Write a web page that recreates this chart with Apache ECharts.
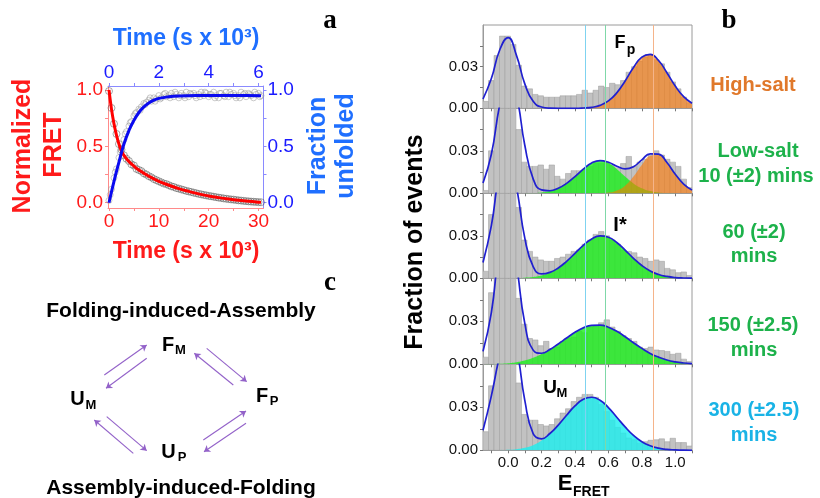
<!DOCTYPE html>
<html><head><meta charset="utf-8">
<script src="https://cdn.jsdelivr.net/npm/echarts@6/dist/echarts.min.js"></script>
<style>html,body{margin:0;padding:0;background:#fff}#c{width:820px;height:498px}</style>
</head><body><div id="c"></div>
<script>
// ---------------- Panel a data ----------------
const redT = [0,0.5,1,1.5,2,2.5,3,4,5,6,8,10,12,14,16,18,20,22,24,26,28,30,30.5];
const redV = [1.0,0.83,0.70,0.60,0.52,0.46,0.42,0.365,0.325,0.29,0.235,0.19,0.155,0.125,0.10,0.078,0.06,0.045,0.032,0.021,0.012,0.005,0.004];
const blueT = [0,0.2,0.4,0.6,0.8,1.0,1.2,1.4,1.6,1.8,2.0,2.4,2.8,3.5,4.5,5.5,6.1];
const blueV = [0,0.19,0.36,0.52,0.64,0.73,0.80,0.85,0.885,0.91,0.925,0.94,0.947,0.95,0.95,0.95,0.948];
const redDotT = [0,0.5,1,1.5,2,2.5,3,3.5,4,4.5,5,5.5,6,6.5,7,7.5,8,8.5,9,9.5,10,10.5,11,11.5,12,12.5,13,13.5,14,14.5,15,15.5,16,16.5,17,17.5,18,18.5,19,19.5,20,20.5,21,21.5,22,22.5,23,23.5,24,24.5,25,25.5,26,26.5,27,27.5,28,28.5,29,29.5,30,30.5];
const redDotV = [0.99,0.84,0.70,0.61,0.52,0.47,0.42,0.39,0.37,0.34,0.33,0.30,0.29,0.28,0.26,0.25,0.235,0.225,0.21,0.20,0.19,0.18,0.17,0.165,0.155,0.145,0.14,0.13,0.125,0.118,0.112,0.105,0.10,0.095,0.089,0.084,0.078,0.074,0.069,0.065,0.06,0.057,0.053,0.049,0.045,0.042,0.038,0.035,0.032,0.029,0.027,0.024,0.021,0.019,0.016,0.014,0.012,0.01,0.008,0.007,0.005,0.004];
const blueDotT = [0,0.1,0.2,0.3,0.4,0.5,0.6,0.7,0.8,0.9,1.0,1.1,1.2,1.3,1.4,1.5,1.6,1.7,1.8,1.9,2.0,2.1,2.2,2.3,2.4,2.5,2.6,2.7,2.8,2.9,3.0,3.1,3.2,3.3,3.4,3.5,3.6,3.7,3.8,3.9,4.0,4.1,4.2,4.3,4.4,4.5,4.6,4.7,4.8,4.9,5.0,5.1,5.2,5.3,5.4,5.5,5.6,5.7,5.8,5.9,6.0,6.1,
  0.05,0.25,0.45,0.65,0.85,1.05,1.25,1.45,1.65,1.85,2.05,2.25,2.45,2.65,2.85,3.05,3.25,3.45,3.65,3.85,4.05,4.25,4.45,4.65,4.85,5.05,5.25,5.45,5.65,5.85,6.05];
const blueDotV = [0.02,0.12,0.22,0.30,0.40,0.48,0.56,0.63,0.68,0.72,0.77,0.80,0.83,0.85,0.88,0.89,0.91,0.90,0.93,0.92,0.95,0.93,0.96,0.94,0.95,0.97,0.94,0.96,0.93,0.97,0.95,0.98,0.94,0.96,0.97,0.93,0.96,0.98,0.95,0.97,0.94,0.96,0.98,0.95,0.93,0.97,0.95,0.98,0.94,0.96,0.97,0.93,0.95,0.98,0.96,0.94,0.97,0.95,0.93,0.96,0.97,0.95,
  0.07,0.27,0.45,0.61,0.71,0.79,0.82,0.87,0.93,0.90,0.92,0.97,0.93,0.98,0.95,0.93,0.97,0.95,0.94,0.98,0.96,0.93,0.97,0.94,0.98,0.95,0.93,0.97,0.96,0.98,0.94];

// ---------------- Panel b data ----------------
const binStart = -0.15, binCount = 38, binWidth = 1.25 / 38;
const hist1 = [0.005,0.020,0.038,0.052,0.052,0.046,0.031,0.016,0.014,0.010,0.009,0.008,0.008,0.008,0.009,0.009,0.009,0.010,0.013,0.011,0.013,0.016,0.015,0.018,0.017,0.020,0.026,0.030,0.034,0.037,0.038,0.035,0.032,0.026,0.019,0.014,0.008,0.004];
const hist2 = [0.002,0.030,0.070,0.080,0.085,0.080,0.045,0.022,0.019,0.019,0.020,0.017,0.020,0.012,0.010,0.014,0.016,0.016,0.017,0.019,0.021,0.021,0.022,0.020,0.018,0.021,0.026,0.019,0.022,0.024,0.027,0.030,0.027,0.024,0.022,0.019,0.010,0.004];
const hist3 = [0.005,0.045,0.085,0.090,0.090,0.085,0.050,0.027,0.019,0.015,0.013,0.012,0.012,0.014,0.015,0.017,0.019,0.020,0.024,0.027,0.031,0.033,0.030,0.027,0.024,0.020,0.019,0.018,0.015,0.014,0.012,0.013,0.012,0.007,0.006,0.004,0.0045,0.002];
const hist4 = [0.005,0.050,0.085,0.095,0.095,0.090,0.046,0.028,0.018,0.017,0.013,0.016,0.011,0.012,0.016,0.018,0.019,0.023,0.022,0.026,0.027,0.029,0.031,0.026,0.023,0.020,0.018,0.016,0.012,0.011,0.012,0.010,0.0096,0.009,0.007,0.0077,0.0036,0.002];
const hist5 = [0.013,0.045,0.080,0.090,0.090,0.085,0.047,0.025,0.021,0.021,0.018,0.017,0.018,0.022,0.026,0.029,0.034,0.037,0.039,0.039,0.037,0.032,0.027,0.021,0.016,0.012,0.0086,0.0074,0.005,0.006,0.007,0.0074,0.008,0.006,0.0084,0.0054,0.0054,0.003];

const fretX = [-0.15,-0.10,-0.05,0,0.05,0.10,0.15,0.20,0.25,0.30,0.35,0.40,0.45,0.50,0.55,0.60,0.65,0.70,0.75,0.80,0.85,0.90,0.95,1.00,1.05,1.10];
const fit1 = [0.0067,0.0214,0.0420,0.0509,0.0381,0.0176,0.0050,0.0009,0.0001,0,0,0,0.0002,0.0007,0.0021,0.0053,0.0111,0.0197,0.0294,0.0369,0.0389,0.0344,0.0256,0.0160,0.0084,0.0037];
const orange1 = [0,0,0,0,0,0,0,0,0,0,0,0,0.0002,0.0007,0.0021,0.0053,0.0111,0.0197,0.0294,0.0369,0.0389,0.0344,0.0256,0.0160,0.0084,0.0037];
const fit2 = [0.0073,0.0276,0.0624,0.0848,0.0691,0.0339,0.0102,0.0024,0.0018,0.0036,0.0070,0.0118,0.0171,0.0214,0.0231,0.0219,0.0191,0.0172,0.0188,0.0236,0.0279,0.0276,0.0217,0.0135,0.0065,0.0024];
const green2 = [0,0,0,0,0,0.0001,0.0002,0.0006,0.0016,0.0036,0.0070,0.0118,0.0171,0.0214,0.0230,0.0214,0.0171,0.0118,0.0070,0.0036,0.0016,0.0006,0.0002,0.0001,0,0];
const orange2 = [0,0,0,0,0,0,0,0,0,0,0,0,0,0,0.0001,0.0005,0.0020,0.0054,0.0118,0.0200,0.0263,0.0270,0.0215,0.0134,0.0065,0.0024];
const fit3 = [0.0112,0.0372,0.0745,0.0896,0.0647,0.0284,0.0082,0.0031,0.0042,0.0073,0.0120,0.0176,0.0233,0.0278,0.0299,0.0290,0.0253,0.0199,0.0141,0.0090,0.0052,0.0027,0.0013,0.0005,0.0002,0.0001];
const green3 = [0,0,0,0,0.0001,0.0004,0.0009,0.0020,0.0041,0.0073,0.0120,0.0176,0.0233,0.0278,0.0299,0.0290,0.0253,0.0199,0.0141,0.0090,0.0052,0.0027,0.0013,0.0005,0.0002,0.0001];
const fit4 = [0.0090,0.0361,0.0808,0.1002,0.0696,0.0285,0.0099,0.0077,0.0103,0.0142,0.0183,0.0223,0.0254,0.0272,0.0274,0.0259,0.0230,0.0192,0.0150,0.0111,0.0076,0.0050,0.0030,0.0017,0.0009,0.0005];
const green4 = [0.0001,0.0002,0.0004,0.0008,0.0015,0.0027,0.0045,0.0071,0.0103,0.0142,0.0183,0.0223,0.0254,0.0272,0.0274,0.0259,0.0230,0.0192,0.0150,0.0111,0.0076,0.0050,0.0030,0.0017,0.0009,0.0005];
const fit5 = [0.0140,0.0380,0.0661,0.0863,0.0708,0.0348,0.0116,0.0080,0.0117,0.0176,0.0245,0.0310,0.0356,0.0370,0.0349,0.0298,0.0231,0.0163,0.0104,0.0060,0.0032,0.0015,0.0006,0.0003,0.0001,0];
const cyan5 = [0,0,0.0001,0.0003,0.0008,0.0018,0.0036,0.0068,0.0115,0.0176,0.0245,0.0310,0.0356,0.0370,0.0349,0.0298,0.0231,0.0163,0.0104,0.0060,0.0032,0.0015,0.0006,0.0003,0.0001,0];
const refLines = [0.46, 0.58, 0.87];
const xLabelVals = [0,0.2,0.4,0.6,0.8,1.0];
const xTickVals = [-0.1,0,0.1,0.2,0.3,0.4,0.5,0.6,0.7,0.8,0.9,1.0,1.1];
const yLabelVals = [0,0.03];
const yTickVals = [0,0.015,0.03,0.045];

// ---------------- Panel c data ----------------
const arrows = [
  [104.3,375,146.7,345],[146.7,358.3,106,388.3],
  [206.7,348.3,246.7,381.7],[233.3,385,194.3,353.3],
  [106.7,416.7,146.7,450.7],[133.3,453.3,94.3,420],
  [203.3,440,246,411],[246,423.3,204,451.7]
];

// ---------------- build ----------------
const FONT = '"Liberation Sans", Arial, Helvetica, sans-serif';
const SERIF = '"Liberation Serif", "Times New Roman", serif';
const RED = '#FF1A1A', BLUE = '#1A1AFF', AZURE = '#1F6FFF';
const ORANGE_TXT = '#E0782A', GREEN_TXT = '#1DB24B', CYAN_TXT = '#19B3E6';
const pairs = (xs, ys) => xs.map((x, i) => [x, ys[i]]);
const YMAX = 0.06;

const grids = [{left:108, top:86, width:155.5, height:122, show:false}];
const panelTops = [25, 108.3, 193.3, 278.3, 364.3];
const panelHeights = [83.3, 85, 85, 86, 86];
panelTops.forEach((t, i) => grids.push({left:483, top:t, width:209, height:panelHeights[i], show:true, borderColor:'#9a9a9a', borderWidth:1}));
grids.push({left:0, top:0, width:820, height:498, show:false});

const xAxes = [
  {gridIndex:0, type:'value', position:'bottom', min:-0.2, max:31,
   axisLine:{onZero:false, lineStyle:{color:'#FF8A8A'}},
   axisTick:{customValues:[0,5,10,15,20,25,30], length:3, lineStyle:{color:'#FF8A8A'}},
   axisLabel:{customValues:[0,10,20,30], color:RED, fontSize:19, fontFamily:FONT, margin:4},
   splitLine:{show:false}},
  {gridIndex:0, type:'value', position:'top', min:-0.04, max:6.2,
   axisLine:{onZero:false, lineStyle:{color:'#8A8AFF'}},
   axisTick:{customValues:[0,1,2,3,4,5,6], length:3, lineStyle:{color:'#8A8AFF'}},
   axisLabel:{customValues:[0,2,4,6], color:BLUE, fontSize:19, fontFamily:FONT, margin:4},
   splitLine:{show:false}}
];
const yAxes = [
  {gridIndex:0, type:'value', position:'left', min:-0.047, max:1.035,
   axisLine:{show:true, onZero:false, lineStyle:{color:'#FF8A8A'}},
   axisTick:{show:true, customValues:[0,0.25,0.5,0.75,1], length:3, lineStyle:{color:'#FF8A8A'}},
   axisLabel:{customValues:[0,0.5,1], formatter:v=>v.toFixed(1), color:RED, fontSize:19, fontFamily:FONT, margin:5},
   splitLine:{show:false}},
  {gridIndex:0, type:'value', position:'right', min:-0.047, max:1.035,
   axisLine:{show:true, onZero:false, lineStyle:{color:'#8A8AFF'}},
   axisTick:{show:true, customValues:[0,0.25,0.5,0.75,1], length:3, lineStyle:{color:'#8A8AFF'}},
   axisLabel:{customValues:[0,0.5,1], formatter:v=>v.toFixed(1), color:BLUE, fontSize:19, fontFamily:FONT, margin:4},
   splitLine:{show:false}}
];
for (let i = 0; i < 5; i++) {
  xAxes.push({gridIndex:i+1, type:'value', min:-0.15, max:1.1,
    axisLine:{onZero:false, lineStyle:{color:'#9a9a9a'}},
    axisTick:{customValues:xTickVals, length:3, lineStyle:{color:'#777'}},
    axisLabel:{show:i===4, customValues:xLabelVals, formatter:v=>v.toFixed(1), color:'#111', fontSize:15, fontFamily:FONT, margin:5},
    splitLine:{show:false}});
  yAxes.push({gridIndex:i+1, type:'value', min:0, max:YMAX,
    axisLine:{show:true, onZero:false, lineStyle:{color:'#9a9a9a'}},
    axisTick:{show:true, customValues:yTickVals, length:3, lineStyle:{color:'#777'}},
    axisLabel:{customValues:yLabelVals, formatter:v=>v.toFixed(2), color:'#111', fontSize:15, fontFamily:FONT, margin:5},
    splitLine:{show:false}});
}
xAxes.push({gridIndex:6, type:'value', min:0, max:820, show:false});
yAxes.push({gridIndex:6, type:'value', min:0, max:498, inverse:true, show:false});

const series = [
  {type:'scatter', xAxisIndex:0, yAxisIndex:0, data:pairs(redDotT, redDotV), symbol:'circle', symbolSize:7,
   itemStyle:{color:'rgba(0,0,0,0)', borderColor:'rgba(70,70,70,0.75)', borderWidth:0.8}, z:2, silent:true},
  {type:'scatter', xAxisIndex:1, yAxisIndex:1, data:pairs(blueDotT, blueDotV), symbol:'circle', symbolSize:6,
   itemStyle:{color:'rgba(0,0,0,0)', borderColor:'rgba(150,150,150,0.8)', borderWidth:0.8}, z:2, silent:true},
  {type:'line', xAxisIndex:0, yAxisIndex:0, data:pairs(redT, redV), smooth:true, showSymbol:false, symbol:'none',
   lineStyle:{color:'#FF0000', width:3}, z:3},
  {type:'line', xAxisIndex:1, yAxisIndex:1, data:pairs(blueT, blueV), smooth:true, showSymbol:false, symbol:'none',
   lineStyle:{color:'#0A0AF0', width:3}, z:3}
];

const GREEN_F = {color:'#1AEF1A', opacity:0.8};
const ORANGE_F = {color:'#FF7700', opacity:0.6};
const CYAN_F = {color:'#1AEFEF', opacity:0.8};
const panels = [
  {hist:hist1, fit:fit1, comps:[[orange1, ORANGE_F]]},
  {hist:hist2, fit:fit2, comps:[[green2, GREEN_F],[orange2, ORANGE_F]]},
  {hist:hist3, fit:fit3, comps:[[green3, GREEN_F]]},
  {hist:hist4, fit:fit4, comps:[[green4, GREEN_F]]},
  {hist:hist5, fit:fit5, comps:[[cyan5, CYAN_F]]}
];
const refColors = ['#7FD3F0', '#7FD8A8', '#F5B48A'];
panels.forEach((p, i) => {
  const ax = i + 2;
  series.push({type:'custom', xAxisIndex:ax, yAxisIndex:ax, clip:true, silent:true, z:1,
    data: p.hist.map((h, k) => [binStart + k*binWidth, binStart + (k+1)*binWidth, h]),
    encode:{x:[0,1], y:2},
    renderItem:(params, api) => {
      const h = Math.min(api.value(2), YMAX);
      const a = api.coord([api.value(0), h]);
      const b = api.coord([api.value(1), 0]);
      return {type:'rect', shape:{x:a[0], y:a[1], width:b[0]-a[0], height:b[1]-a[1]},
        style:{fill:'#C2C2C2', stroke:'#9C9C9C', lineWidth:0.5}};
    }});
  p.comps.forEach(([d, f]) => {
    series.push({type:'line', xAxisIndex:ax, yAxisIndex:ax, data:pairs(fretX, d), smooth:true, symbol:'none', showSymbol:false,
      lineStyle:{width:0}, areaStyle:{color:f.color, opacity:f.opacity}, z:2, silent:true});
  });
  series.push({type:'line', xAxisIndex:ax, yAxisIndex:ax, data:pairs(fretX, p.fit), smooth:true, symbol:'none', showSymbol:false,
    lineStyle:{color:'#2020D0', width:1.7}, z:3, silent:true,
    markLine:{silent:true, symbol:['none','none'], label:{show:false},
      data: refLines.map((v, j) => ({xAxis:v, lineStyle:{color:refColors[j], width:1, type:'solid', opacity:1}}))}});
});

series.push({type:'lines', coordinateSystem:'cartesian2d', xAxisIndex:7, yAxisIndex:7, silent:true,
  symbol:['none','arrow'], symbolSize:6, lineStyle:{color:'#9362C9', width:1.1, opacity:1, curveness:0},
  data: arrows.map(a => ({coords:[[a[0],a[1]],[a[2],a[3]]]}))});

function T(text, x, y, size, color, o) {
  o = o || {};
  const al = o.align || 'center';
  return {type:'text', x:x, y:y, rotation:o.rot || 0, z:100, silent:true,
    style:{text:text, fill:color || '#000', fontSize:size, fontWeight:o.weight || 'bold', fontFamily:o.family || FONT,
      align:al, verticalAlign:'middle', textAlign:al, textVerticalAlign:'middle'}};
}
const R90 = Math.PI / 2;
const graphics = [
  T('Normalized', 23, 146, 25, RED, {rot:R90}),
  T('FRET', 54, 145, 25, RED, {rot:R90}),
  T('Time (s x 10\u00B3)', 186, 39, 23, AZURE),
  T('Time (s x 10\u00B3)', 186, 252, 23, RED),
  T('Fraction', 318, 146, 25, AZURE, {rot:R90}),
  T('unfolded', 346, 146, 25, AZURE, {rot:R90}),
  T('a', 330, 21, 27, '#000', {family:SERIF}),
  T('b', 729, 21, 27, '#000', {family:SERIF}),
  T('c', 330, 283, 27, '#000', {family:SERIF}),
  T('Fraction of events', 415, 242, 25, '#000', {rot:R90}),
  T('E', 565, 484, 22, '#000'),
  T('FRET', 573, 492, 14, '#000', {align:'left'}),
  T('F', 620, 43, 18, '#000'),
  T('p', 631, 50, 14, '#000'),
  T('I*', 620, 225, 20, '#000'),
  T('U', 550, 388, 19, '#000'),
  T('M', 562, 393, 13, '#000'),
  T('High-salt', 753, 85, 20, ORANGE_TXT),
  T('Low-salt', 758, 151, 20, GREEN_TXT),
  T('10 (\u00B12) mins', 756, 176, 20, GREEN_TXT),
  T('60 (\u00B12)', 754, 232, 20, GREEN_TXT),
  T('mins', 754, 256, 20, GREEN_TXT),
  T('150 (\u00B12.5)', 753, 325, 20, GREEN_TXT),
  T('mins', 754, 350, 20, GREEN_TXT),
  T('300 (\u00B12.5)', 754, 410, 20, CYAN_TXT),
  T('mins', 754, 435, 20, CYAN_TXT),
  T('Folding-induced-Assembly', 181, 311, 21, '#000'),
  T('Assembly-induced-Folding', 181, 488, 21, '#000'),
  T('F', 168, 345, 20, '#000'), T('M', 180.5, 350.5, 13, '#000'),
  T('U', 77.5, 399.5, 20, '#000'), T('M', 91, 405, 13, '#000'),
  T('F', 262, 396.5, 20, '#000'), T('P', 274, 401.5, 13, '#000'),
  T('U', 168.5, 452.5, 20, '#000'), T('P', 182, 457, 13, '#000')
];

const chart = echarts.init(document.getElementById('c'), null, {renderer:'canvas', width:820, height:498});
chart.setOption({
  animation:false,
  backgroundColor:'#ffffff',
  textStyle:{fontFamily:FONT},
  grid:grids, xAxis:xAxes, yAxis:yAxes, series:series, graphic:graphics
});
</script></body></html>
